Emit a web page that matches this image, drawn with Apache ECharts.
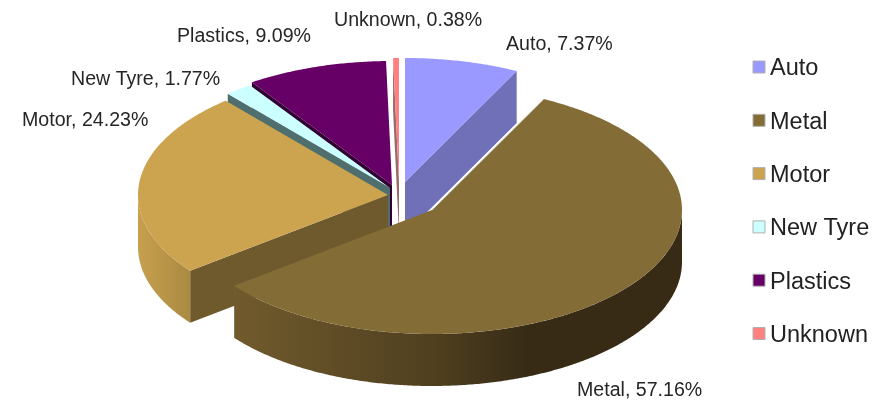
<!DOCTYPE html>
<html>
<head>
<meta charset="utf-8">
<style>html,body{margin:0;padding:0;background:#fff}#c{width:888px;height:402px}</style>
<script src="https://cdn.jsdelivr.net/npm/echarts@6/dist/echarts.min.js"></script>
</head>
<body>
<div id="c"></div>
<script>
var categories = ['Auto', 'Metal', 'Motor', 'New Tyre', 'Plastics', 'Unknown'];
var shares = [7.37, 57.16, 24.23, 1.77, 9.09, 0.38];
var percentLabels = ['7.37%', '57.16%', '24.23%', '1.77%', '9.09%', '0.38%'];

// Style and layout (not data)
var topColors = ['#9999FF', '#846C36', '#CCA450', '#CCFFFF', '#660066', '#FF8080'];
var faceColors = ['#7070B8', '#6E5A2C', '#6E5A2C', '#4F6E6E', '#330033', '#9A6A6A'];
var centres = [[405, 182], [432, 210], [388, 195], [390, 188], [392, 185], [399, 182]];
var labelAt = [[506, 45], [577, 391], [22, 121], [71, 79.5], [177, 37], [334, 21]];
var wallStops = {
  1: [[0, '#715B2D'], [0.45, '#4F3F1F'], [0.66, '#372B16'], [1, '#372B16']],
  2: [[0, '#C6A04E'], [1, '#AA8A42']]
};
var RX = 250, RY = 124, DEPTH = 52;
var drawOrder = [0, 5, 4, 3, 2, 1];

var total = shares.reduce(function (a, b) { return a + b; }, 0);
function startAngle(i) {
  var s = 0;
  for (var k = 0; k < i; k++) s += shares[k];
  return s / total * 360;
}
function pt(c, deg, dy) {
  var r = deg * Math.PI / 180;
  return [c[0] + RX * Math.sin(r), c[1] - RY * Math.cos(r) + (dy || 0)];
}
function arc(c, a, b, dy) {
  var out = [], n = Math.max(2, Math.ceil(Math.abs(b - a) * 2));
  for (var k = 0; k <= n; k++) out.push(pt(c, a + (b - a) * k / n, dy));
  return out;
}
function faceShape(c, deg, color) {
  var o = pt(c, deg), ob = pt(c, deg, DEPTH);
  return {
    type: 'polygon', silent: true,
    shape: { points: [o, c, [c[0], c[1] + DEPTH], ob] },
    style: { fill: color }
  };
}
function makeRender(i) {
  return function (params, api) {
    var value = api.value(0);
    var a = startAngle(i), b = a + value / total * 360, c = centres[i];
    var children = [];
    if (Math.sin(a * Math.PI / 180) < -1e-6) children.push(faceShape(c, a, faceColors[i]));
    if (Math.sin(b * Math.PI / 180) > 1e-6) children.push(faceShape(c, b, faceColors[i]));
    var wa = Math.max(a, 90), wb = Math.min(b, 270);
    if (wb > wa) {
      var front = arc(c, wa, wb, 0), back = arc(c, wb, wa, DEPTH);
      children.push({
        type: 'polygon', silent: true,
        shape: { points: front.concat(back) },
        style: {
          fill: {
            type: 'linear', x: 0, y: 0, x2: 1, y2: 0,
            colorStops: wallStops[i].map(function (s) { return { offset: s[0], color: s[1] }; })
          }
        }
      });
    }
    children.push({
      type: 'polygon', silent: true,
      shape: { points: [c].concat(arc(c, a, b, 0)) },
      style: { fill: topColors[i] }
    });
    if (Math.sin(a * Math.PI / 180) > 1e-6) {
      children.push({
        type: 'line', silent: true,
        shape: { x1: c[0], y1: c[1], x2: pt(c, a)[0], y2: pt(c, a)[1] },
        style: { stroke: 'rgba(235,235,235,0.85)', lineWidth: 1 }
      });
    }
    children.push({
      type: 'text', silent: true,
      style: {
        x: labelAt[i][0], y: labelAt[i][1],
        text: categories[i] + ', ' + percentLabels[i],
        fill: '#262626',
        font: '19.6px "Liberation Sans", Arial, sans-serif',
        verticalAlign: 'middle', align: 'left'
      }
    });
    return { type: 'group', children: children };
  };
}

var series = drawOrder.map(function (i) {
  return {
    name: categories[i],
    type: 'custom',
    coordinateSystem: 'none',
    renderItem: makeRender(i),
    data: [[shares[i]]],
    itemStyle: { color: topColors[i] },
    silent: true,
    animation: false
  };
});

var chart = echarts.init(document.getElementById('c'), null, { renderer: 'canvas' });
chart.setOption({
  backgroundColor: '#ffffff',
  animation: false,
  legend: {
    orient: 'vertical',
    left: 752.5,
    top: 53,
    data: categories,
    icon: 'rect',
    itemWidth: 12,
    itemHeight: 12,
    itemGap: 25.3,
    padding: 0,
    selectedMode: false,
    itemStyle: { borderColor: '#b0b0b0', borderWidth: 1 },
    formatter: function (name) { return '{a|' + name + '}'; },
    textStyle: {
      rich: {
        a: {
          fontFamily: '"Liberation Sans", Arial, sans-serif',
          fontSize: 23.5,
          lineHeight: 24,
          padding: [4, 0, 0, 0],
          color: '#222222'
        }
      }
    }
  },
  series: series
});
</script>
</body>
</html>
